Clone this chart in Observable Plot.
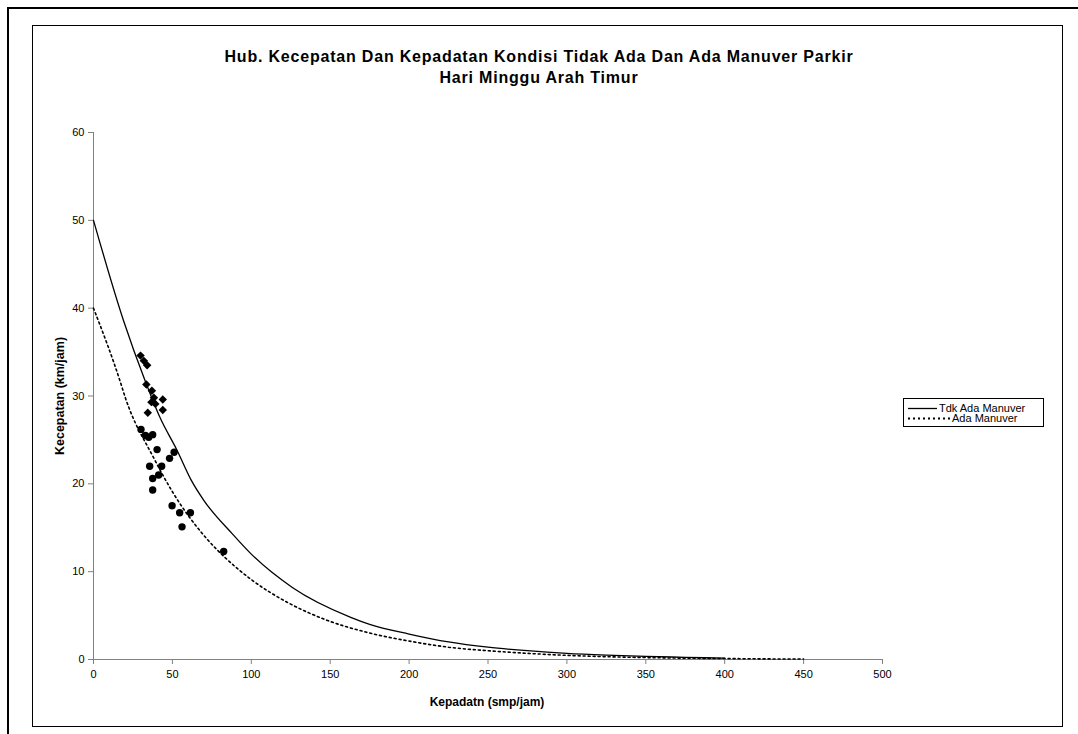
<!DOCTYPE html>
<html>
<head>
<meta charset="utf-8">
<script src="https://cdn.jsdelivr.net/npm/d3@7"></script>
<script src="https://cdn.jsdelivr.net/npm/@observablehq/plot@0.6"></script>
<style>
  html, body { margin: 0; padding: 0; background: #fff; }
  #page { position: relative; width: 1078px; height: 734px; overflow: hidden; font-family: "Liberation Sans", Arial, sans-serif; color: #000; }
  #chart > svg { position: absolute; left: 0; top: 0; }
  .abs { position: absolute; }
  .title { left: 0; width: 1078px; text-align: center; font-weight: bold; font-size: 16px; letter-spacing: 0.8px; line-height: 21px; top: 46px; }
  .axt { font-weight: bold; font-size: 12px; white-space: nowrap; }
  .legend { left: 903px; top: 398px; width: 139px; height: 27px; border: 1px solid #000; background: #fff; font-size: 11px; }
  .lrow { position: absolute; left: 0; height: 12px; line-height: 12px; white-space: nowrap; }
  .lrow svg { display: inline-block; vertical-align: top; }
</style>
</head>
<body>
<div id="page">
  <div class="abs" style="left:8px;top:7px;width:1070px;height:2px;background:#000"></div>
  <div class="abs" style="left:7px;top:7px;width:2px;height:727px;background:#000"></div>
  <div class="abs" style="left:32px;top:25px;width:1029px;height:700px;border:1px solid #000"></div>
  <div id="chart"></div>
  <div class="abs title" id="title"></div>
  <div class="abs axt" id="ylab" style="left:60px;top:396px;font-size:12.5px;transform:translate(-50%,-50%) rotate(-90deg);"></div>
  <div class="abs axt" id="xlab" style="left:487px;top:702px;transform:translate(-50%,-50%);"></div>
  <div class="abs legend" id="legend"></div>
</div>
<script>
// ---- Data ----
const titleLines = ["Hub. Kecepatan Dan Kepadatan Kondisi Tidak Ada Dan Ada Manuver Parkir", "Hari Minggu Arah Timur"];
const xTitle = "Kepadatn (smp/jam)";
const yTitle = "Kecepatan (km/jam)";
const seriesNames = ["Tdk Ada Manuver", "Ada Manuver"];
const xTicks = [0, 50, 100, 150, 200, 250, 300, 350, 400, 450, 500];
const yTicks = [0, 10, 20, 30, 40, 50, 60];

// Fitted curve "Tdk Ada Manuver" (solid): density, speed
const tdkD = [0, 19, 33, 42, 53, 62, 70, 88, 100, 126, 163, 175, 200, 225, 250, 275, 300, 325, 350, 375, 400];
const tdkV = [50, 38.6, 31.6, 27.6, 23.8, 20.4, 18.1, 14.3, 12.0, 8.2, 4.8, 4.0, 2.9, 2.0, 1.4, 1.0, 0.7, 0.5, 0.35, 0.25, 0.15];

// Fitted curve "Ada Manuver" (dotted)
const adaD = [0, 17, 20, 38, 50, 72, 84, 100, 125, 146, 173, 200, 225, 250, 275, 300, 325, 350, 375, 400, 425, 450];
const adaV = [40, 31.6, 29.9, 23.0, 19.1, 13.7, 11.5, 9.1, 6.3, 4.6, 3.1, 2.1, 1.4, 1.0, 0.7, 0.47, 0.32, 0.22, 0.15, 0.11, 0.07, 0.05];

// Observed points, no manoeuvre (diamonds)
const obsTdkD = [29.8, 31.9, 34.0, 33.5, 37.0, 36.7, 38.3, 39.2, 43.9, 43.9, 34.4];
const obsTdkV = [34.6, 34.0, 33.5, 31.3, 30.6, 29.3, 29.8, 29.1, 29.6, 28.4, 28.1];

// Observed points, with manoeuvre (circles)
const obsAdaD = [30.1, 32.9, 35.0, 37.5, 40.3, 51.1, 48.2, 35.6, 43.2, 41.3, 37.5, 37.5, 49.8, 54.6, 61.4, 56.1, 82.5];
const obsAdaV = [26.2, 25.5, 25.3, 25.6, 23.9, 23.6, 22.9, 22.0, 22.0, 21.0, 20.6, 19.3, 17.5, 16.7, 16.7, 15.1, 12.3];

// ---- Build tables ----
const zip = (a, b) => a.map((d, i) => ({x: d, y: b[i]}));
const tdkCurve = zip(tdkD, tdkV);
const adaCurve = zip(adaD, adaV);
const obsTdk = zip(obsTdkD, obsTdkV);
const obsAda = zip(obsAdaD, obsAdaV);

const axisGray = "#808080";
const chart = Plot.plot({
  width: 1078,
  height: 734,
  marginLeft: 93,
  marginRight: 196,
  marginTop: 132,
  marginBottom: 75,
  x: {domain: [0, 500]},
  y: {domain: [0, 60]},
  style: {fontFamily: "'Liberation Sans', Arial, sans-serif", fontSize: "11px", background: "transparent", color: "#000"},
  marks: [
    Plot.axisX({ticks: xTicks, tickSize: 5, tickPadding: 6, stroke: axisGray, fill: "#000", label: null, tickFormat: d => String(d)}),
    Plot.axisY({ticks: yTicks, tickSize: 5, tickPadding: 4, stroke: axisGray, fill: "#000", label: null, tickFormat: d => String(d)}),
    Plot.ruleY([0], {stroke: axisGray}),
    Plot.ruleX([0], {stroke: axisGray}),
    Plot.line(tdkCurve, {x: "x", y: "y", stroke: "#000", strokeWidth: 1.3, curve: "monotone-x"}),
    Plot.line(adaCurve, {x: "x", y: "y", stroke: "#000", strokeWidth: 1.6, strokeDasharray: "2,3", curve: "monotone-x"}),
    Plot.dot(obsTdk, {x: "x", y: "y", symbol: "diamond2", r: 3.8, fill: "#000", stroke: "none"}),
    Plot.dot(obsAda, {x: "x", y: "y", r: 3.7, fill: "#000", stroke: "none"})
  ]
});
document.getElementById("chart").appendChild(chart);

document.getElementById("title").innerHTML = titleLines.join("<br>");
document.getElementById("xlab").textContent = xTitle;
document.getElementById("ylab").textContent = yTitle;

// ---- Legend ----
const legend = document.getElementById("legend");
const styles = [{dash: null, w: 1.3, len: 29}, {dash: "2,3", w: 1.8, len: 42}];
seriesNames.forEach((name, i) => {
  const row = document.createElement("div");
  row.className = "lrow";
  row.style.top = (3 + i * 10) + "px";
  const sw = document.createElementNS("http://www.w3.org/2000/svg", "svg");
  sw.setAttribute("width", styles[i].len + 6); sw.setAttribute("height", 12);
  const ln = document.createElementNS("http://www.w3.org/2000/svg", "line");
  ln.setAttribute("x1", 4); ln.setAttribute("x2", 4 + styles[i].len); ln.setAttribute("y1", 6.5); ln.setAttribute("y2", 6.5);
  ln.setAttribute("stroke", "#000"); ln.setAttribute("stroke-width", styles[i].w);
  if (styles[i].dash) ln.setAttribute("stroke-dasharray", styles[i].dash);
  sw.appendChild(ln);
  row.appendChild(sw);
  const t = document.createElement("span");
  t.textContent = name;
  row.appendChild(t);
  legend.appendChild(row);
});
</script>
</body>
</html>
